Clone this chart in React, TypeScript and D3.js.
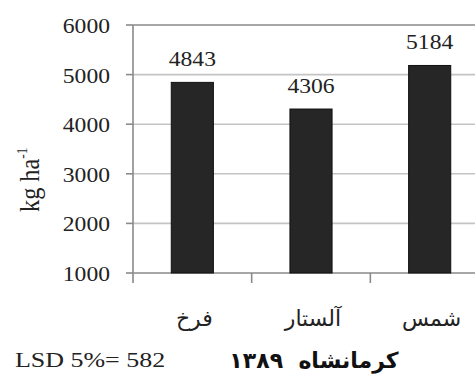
import * as d3 from 'd3';
import React from 'react';

const categories = ['فرخ', 'آلستار', 'شمس'];
const yields = [4843, 4306, 5184];
const yTicks = [1000, 2000, 3000, 4000, 5000, 6000];
const yTitle = 'kg ha';
const lsdLabel = 'LSD 5%= 582';
const siteLabel = 'کرمانشاه  ۱۳۸۹';

const W = 475;
const H = 374;
const left = 133;
const right = 489;
const top = 25;
const bottom = 273;
const serif = '"Liberation Serif", "Times New Roman", serif';
const sx = 1.18;

function Stretched({ x, y, anchor, size, children }: any) {
  return (
    <g transform={'translate(' + x + ',' + y + ') scale(' + sx + ',1)'}>
      <text textAnchor={anchor} fontSize={size} style={{ fontFamily: serif }} fill="#222">
        {children}
      </text>
    </g>
  );
}

export default function App() {
  const x = d3.scaleBand<string>().domain(categories).range([left, right]).padding(0);
  const y = d3.scaleLinear().domain([1000, 6000]).range([bottom, top]);
  const bw = x.bandwidth() * 0.355;

  return (
    <svg width={W} height={H} style={{ position: 'absolute', left: 0, top: 0, background: '#fff' }}>
      {/* gridlines */}
      {yTicks.map((t) => (
        <line
          key={t}
          x1={left}
          x2={right}
          y1={y(t)}
          y2={y(t)}
          stroke={t === 1000 || t === 6000 ? '#8a8a8a' : '#c4c4c4'}
          strokeWidth={1.6}
        />
      ))}
      {/* y axis */}
      <line x1={left} x2={left} y1={top} y2={bottom + 10} stroke="#8a8a8a" strokeWidth={1.6} />
      {yTicks.map((t) => (
        <line key={'yt' + t} x1={left - 7} x2={left} y1={y(t)} y2={y(t)} stroke="#8a8a8a" strokeWidth={1.6} />
      ))}
      {yTicks.map((t) => (
        <Stretched key={'yl' + t} x={110} y={y(t) + 8} anchor="end" size={20}>
          {t}
        </Stretched>
      ))}
      {/* x ticks at band edges */}
      {categories.slice(1).map((c) => (
        <line key={'xt' + c} x1={x(c)!} x2={x(c)!} y1={bottom} y2={bottom + 10} stroke="#8a8a8a" strokeWidth={1.6} />
      ))}
      {/* bars */}
      {categories.map((c, i) => {
        const bx = x(c)! + (x.bandwidth() - bw) / 2;
        return (
          <rect
            key={'b' + c}
            x={bx}
            y={y(yields[i])}
            width={bw}
            height={bottom - y(yields[i])}
            fill="#262626"
            stroke="#111"
            strokeWidth={1}
          />
        );
      })}
      {categories.map((c, i) => (
        <Stretched key={'v' + c} x={x(c)! + x.bandwidth() / 2} y={y(yields[i]) - 16} anchor="middle" size={20}>
          {yields[i]}
        </Stretched>
      ))}
      {/* category labels */}
      {categories.map((c) => (
        <text
          key={'c' + c}
          x={x(c)! + x.bandwidth() / 2 + 2}
          y={326}
          textAnchor="middle"
          fontSize={22}
          style={{ fontFamily: '"DejaVu Sans", sans-serif' }}
          fill="#222"
        >
          {c}
        </text>
      ))}
      {/* y title */}
      <g transform="translate(39,212) rotate(-90) scale(0.9,1)">
        <text fontSize={27} style={{ fontFamily: serif }} fill="#222">
          {yTitle}
          <tspan fontSize={15} dy={-12}>-1</tspan>
        </text>
      </g>
      <Stretched x={15} y={367} anchor="start" size={22}>
        {lsdLabel}
      </Stretched>
      <text
        x={314}
        y={368}
        textAnchor="middle"
        fontSize={22}
        fontWeight="bold"
        fill="#111"
        style={{ whiteSpace: 'pre', fontFamily: '"DejaVu Sans", sans-serif' }}
      >
        {siteLabel}
      </text>
    </svg>
  );
}
